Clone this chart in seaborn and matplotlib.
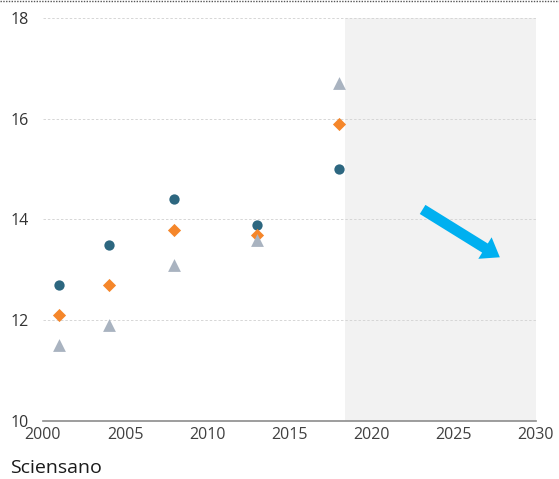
import matplotlib
matplotlib.use("Agg")
import matplotlib.pyplot as plt
import seaborn as sns
import pandas as pd
from matplotlib.lines import Line2D

years = [2001, 2004, 2008, 2013, 2018]
series_a = [12.7, 13.5, 14.4, 13.9, 15.0]   # circles
series_b = [12.1, 12.7, 13.8, 13.7, 15.9]   # diamonds
series_c = [11.5, 11.9, 13.1, 13.6, 16.7]   # triangles
series_names = ["A", "B", "C"]
x_ticks = [2000, 2005, 2010, 2015, 2020, 2025, 2030]
y_ticks = [10, 12, 14, 16, 18]
source_text = "Sciensano"

df = pd.DataFrame({
    "year": years * 3,
    "value": series_a + series_b + series_c,
    "series": [series_names[0]] * 5 + [series_names[1]] * 5 + [series_names[2]] * 5,
})

sns.set_theme(style="white")
plt.rcParams["font.family"] = ["Open Sans", "DejaVu Sans"]

fig = plt.figure(figsize=(5.59, 4.79), dpi=100)
ax = fig.add_axes([43/559, 58/479, 493/559, 403/479])

ax.axvspan(2018.4, 2030, color="#f2f2f2", zorder=0, lw=0)
for y in y_ticks[1:]:
    ax.axhline(y, color="#d6d6d6", lw=0.7, ls=(0, (2.5, 2)), zorder=0.5)

palette = {"A": "#2d6780", "B": "#f5862a", "C": "#a9b3c0"}
markers = {"A": "o", "B": "D", "C": "^"}
sizes = {"A": 55, "B": 45, "C": 85}
for name in series_names:
    sub = df[df["series"] == name]
    sns.scatterplot(data=sub, x="year", y="value", color=palette[name],
                    marker=markers[name], s=sizes[name], linewidth=0,
                    ax=ax, legend=False, zorder=3)

ax.annotate("", xy=(2027.8, 13.25), xytext=(2023.1, 14.2),
            arrowprops=dict(arrowstyle="simple,head_length=0.9,head_width=1.3,tail_width=0.55",
                            color="#00b0f0", lw=0, shrinkA=0, shrinkB=0,
                            mutation_scale=14),
            zorder=4)

ax.set_xlim(2000, 2030)
ax.set_ylim(10, 18)
ax.set_xticks(x_ticks)
ax.set_yticks(y_ticks)
ax.set_xlabel("")
ax.set_ylabel("")
for s in ["top", "right", "left"]:
    ax.spines[s].set_visible(False)
ax.spines["bottom"].set_color("#8c8c8c")
ax.spines["bottom"].set_linewidth(1.2)
ax.tick_params(axis="x", direction="in", length=4, color="#8c8c8c", width=1,
               labelsize=11.5, labelcolor="#404040", pad=4)
ax.tick_params(axis="y", length=0, labelsize=11.5, labelcolor="#333333", pad=10)

fig.text(10/559, 1 - 468/479, source_text, fontsize=14, color="#1a1a1a",
         va="center", ha="left")
fig.add_artist(Line2D([0, 1], [0.998, 0.998], transform=fig.transFigure,
                      color="#555555", lw=1, ls=(0, (1, 1))))

fig.savefig("out.png", dpi=100)
